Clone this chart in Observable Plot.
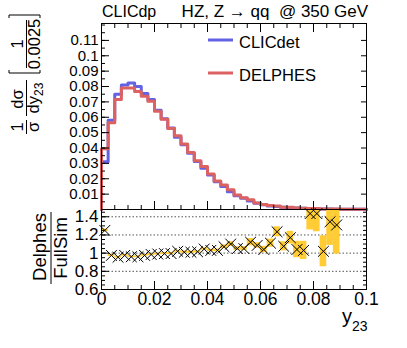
<!DOCTYPE html>
<html><head><meta charset="utf-8">
<script src="https://cdn.jsdelivr.net/npm/d3@7"></script>
<script src="https://cdn.jsdelivr.net/npm/@observablehq/plot@0.6"></script>
<style>
body{margin:0;background:#fff;}
#wrap{position:relative;width:407px;height:348px;overflow:hidden;background:#fff;font-family:"Liberation Sans",Arial,sans-serif;}
#wrap svg{overflow:visible;position:absolute;left:0;}
</style></head><body><div id="wrap"></div>
<script>
// ---- data ----
const binWidth = 0.0025;
const clicdet = [0.031,0.058,0.075,0.081,0.0823,0.080,0.0755,0.0715,0.0645,0.059,
  0.053,0.047,0.0422,0.0366,0.0312,0.0268,0.0224,0.0180,0.0150,0.0116,
  0.0090,0.0073,0.0056,0.0040,0.0031,0.0023,0.0019,0.0014,0.0012,0.0009,
  0.0008,0.0005,0.0004,0.0004,0.0003,0.0002,0.0002,0.0001,0.0001,0.0001];
const delphes = [0.0395,0.0565,0.0716,0.079,0.079,0.0768,0.0736,0.0704,0.0639,0.0587,
  0.0527,0.0479,0.0426,0.037,0.0317,0.028,0.0231,0.0185,0.016,0.0128,
  0.0095,0.0077,0.0063,0.0043,0.0032,0.0026,0.0023,0.0015,0.0014,0.0009,
  0.0008,0.0007,0.0006,0.0004,0.0004,0.0003,0.0001,0.0001,0.0001,0.0001];
const ratio = [1.25,0.975,0.955,0.975,0.96,0.96,0.975,0.985,0.99,0.995,
  0.995,1.02,1.01,1.01,1.015,1.045,1.03,1.03,1.07,1.10,
  1.05,1.05,1.12,1.085,1.04,1.11,1.235,1.075,1.17,1.04,
  1.03,1.435,1.435,1.02,1.345,1.31];
const ratioErr = [0.015,0.012,0.01,0.01,0.01,0.01,0.01,0.01,0.01,0.01,
  0.01,0.012,0.012,0.012,0.012,0.012,0.012,0.015,0.02,0.025,
  0.02,0.02,0.04,0.03,0.035,0.045,0.055,0.05,0.07,0.09,
  0.1,0.18,0.2,0.17,0.26,0.32];
const seriesNames = ["CLICdet","DELPHES"];
const seriesColors = ["#6262e4","#dc6262"];
const xTicks = [0,0.02,0.04,0.06,0.08,0.1];
const xTickLabels = ["0","0.02","0.04","0.06","0.08","0.1"];
const yTopTicks = [0.01,0.02,0.03,0.04,0.05,0.06,0.07,0.08,0.09,0.1,0.11];
const yTopLabels = ["0.01","0.02","0.03","0.04","0.05","0.06","0.07","0.08","0.09","0.1","0.11"];
const yRatioTicks = [0.6,0.8,1,1.2,1.4];
const yRatioLabels = ["0.6","0.8","1","1.2","1.4"];
const ratioGrid = [0.8,1,1.2,1.4];
const titleLeft = "CLICdp";
const titleRight = "HZ, Z \u2192 qq  @ 350 GeV";

// ---- derived tables ----
function steps(vals, name) {
  const pts = [{x: 0, y: 0, s: name}];
  vals.forEach((v, i) => pts.push({x: i * binWidth, y: v, s: name}));
  pts.push({x: vals.length * binWidth, y: vals[vals.length - 1], s: name});
  pts.push({x: vals.length * binWidth, y: 0, s: name});
  return pts;
}
const stepData = [...steps(clicdet, seriesNames[0]), ...steps(delphes, seriesNames[1])];
const ratioRows = ratio.map((r, i) => ({x1: i * binWidth, x2: (i + 1) * binWidth, xc: (i + 0.5) * binWidth,
  r, lo: r - ratioErr[i], hi: r + ratioErr[i]}));
const minorX = d3.range(0, 21).map(i => i * 0.005);
const minorYTop = d3.range(0, 25).map(i => i * 0.005);
const minorYRatio = d3.range(0, 18).map(i => 0.6 + i * 0.05);
const lab = (ticks, labels) => d => labels[ticks.findIndex(t => Math.abs(t - d) < 1e-9)];

const FONT = "'Liberation Sans', Arial, sans-serif";
const W = 407, ML = 101, MR = 41;
const wrap = document.getElementById("wrap");

// ---- top panel ----
const topPlot = Plot.plot({
  width: W, height: 210, marginTop: 23, marginBottom: 1, marginLeft: ML, marginRight: MR,
  style: {fontFamily: FONT, fontSize: "15px", color: "black", background: "transparent"},
  x: {domain: [0, 0.1], label: null},
  y: {domain: [0, 0.121], label: null},
  color: {domain: seriesNames, range: seriesColors},
  marks: [
    Plot.line(stepData, {x: "x", y: "y", z: "s", stroke: "s", curve: "step-after", strokeWidth: 3}),
    Plot.frame({stroke: "black"}),
    Plot.axisY(yTopTicks, {anchor: "left", tickSize: 0, tickPadding: 3, tickFormat: lab(yTopTicks, yTopLabels), fontSize: 15, label: null}),
    Plot.axisY(yTopTicks, {anchor: "left", tickSize: -8, text: null, label: null}),
    Plot.axisY(minorYTop, {anchor: "left", tickSize: -4, text: null, label: null}),
    Plot.axisY(yTopTicks, {anchor: "right", tickSize: -6, text: null, label: null}),
    Plot.axisX(xTicks, {anchor: "bottom", tickSize: -8, text: null, label: null}),
    Plot.axisX(minorX, {anchor: "bottom", tickSize: -4, text: null, label: null}),
    Plot.axisX(xTicks, {anchor: "top", tickSize: -8, text: null, label: null}),
    Plot.axisX(minorX, {anchor: "top", tickSize: -4, text: null, label: null})
  ]
});
topPlot.style.top = "0px";
wrap.appendChild(topPlot);

// ---- ratio panel ----
const bottomPlot = Plot.plot({
  width: W, height: 139, marginTop: 0, marginBottom: 59, marginLeft: ML, marginRight: MR,
  style: {fontFamily: FONT, fontSize: "17px", color: "black", background: "transparent"},
  x: {domain: [0, 0.1], label: null},
  y: {domain: [0.6, 1.48], label: null},
  marks: [
    Plot.ruleY(ratioGrid, {stroke: "#555", strokeDasharray: "1.5,2"}),
    Plot.rect(ratioRows, {x1: "x1", x2: "x2", y1: "lo", y2: "hi", fill: "#ffcc33", clip: true}),
    Plot.dot(ratioRows, {x: "xc", y: "r", symbol: "times", r: 5, stroke: "black", strokeWidth: 1}),
    Plot.frame({stroke: "black"}),
    Plot.axisY(yRatioTicks, {anchor: "left", tickSize: 0, tickPadding: 3, tickFormat: lab(yRatioTicks, yRatioLabels), fontSize: 17, label: null}),
    Plot.axisY(yRatioTicks, {anchor: "left", tickSize: -8, text: null, label: null}),
    Plot.axisY(minorYRatio, {anchor: "left", tickSize: -4, text: null, label: null}),
    Plot.axisY(minorYRatio, {anchor: "right", tickSize: -4, text: null, label: null}),
    Plot.axisX(xTicks, {anchor: "bottom", tickSize: 0, tickPadding: 3, tickFormat: lab(xTicks, xTickLabels), fontSize: 17.5, label: null}),
    Plot.axisX(xTicks, {anchor: "bottom", tickSize: -8, text: null, label: null}),
    Plot.axisX(minorX, {anchor: "bottom", tickSize: -4, text: null, label: null})
  ]
});
bottomPlot.style.top = "209px";
wrap.appendChild(bottomPlot);

// ---- titles, legend, axis titles ----
const svg = d3.select(wrap).append("svg").attr("width", W).attr("height", 348)
  .style("top", "0px").style("font-family", FONT).attr("fill", "black");
svg.append("text").attr("x", 102).attr("y", 17).attr("font-size", 16).text(titleLeft);
svg.append("text").attr("x", 368).attr("y", 17).attr("font-size", 17).attr("text-anchor", "end")
  .style("white-space", "pre").text(titleRight);

// legend
const leg = [{y: 40}, {y: 73}];
seriesNames.forEach((n, i) => {
  svg.append("line").attr("x1", 208).attr("x2", 233).attr("y1", leg[i].y).attr("y2", leg[i].y)
    .attr("stroke", seriesColors[i]).attr("stroke-width", 3);
  svg.append("text").attr("x", 239).attr("y", leg[i].y + 7.5).attr("font-size", 16.5).text(n);
});

// top y-axis title (rotated)
const TF = 16.5;
const gy = svg.append("g").attr("transform", "rotate(-90)");
function rtext(sx, sy, str, size) {
  return gy.append("text").attr("x", -sy).attr("y", sx).attr("text-anchor", "middle")
    .attr("font-size", size || TF).text(str);
}
function rline(sx, sy1, sy2) {
  gy.append("line").attr("x1", -sy1).attr("x2", -sy2).attr("y1", sx).attr("y2", sx)
    .attr("stroke", "black").attr("stroke-width", 1);
}
rtext(23, 127, "1"); rline(26.5, 120, 134); rtext(39, 127, "\u03c3");
rtext(23, 99, "d\u03c3"); rline(26.5, 80, 116);
const dyT = gy.append("text").attr("x", -98).attr("y", 39).attr("text-anchor", "middle").attr("font-size", TF);
dyT.append("tspan").text("dy");
dyT.append("tspan").attr("dy", 4).attr("font-size", 12).text("23");
rtext(23, 44, "1"); rline(26.5, 20, 68); rtext(40, 44, "0.0025");
// brackets
svg.append("path").attr("d", "M9,70V73H40V70").attr("fill", "none").attr("stroke", "black");
svg.append("path").attr("d", "M9,18V15H40V18").attr("fill", "none").attr("stroke", "black");

// ratio y title
const gr = svg.append("g").attr("transform", "rotate(-90)");
gr.append("text").attr("x", -247).attr("y", 46).attr("text-anchor", "middle").attr("font-size", 18.5).text("Delphes");
gr.append("line").attr("x1", -284).attr("x2", -212).attr("y1", 51).attr("y2", 51).attr("stroke", "black");
gr.append("text").attr("x", -248).attr("y", 67).attr("text-anchor", "middle").attr("font-size", 18.5).text("FullSim");

// x title
const xt = svg.append("text").attr("x", 342).attr("y", 323).attr("font-size", 20);
xt.append("tspan").text("y");
xt.append("tspan").attr("dy", 8).attr("font-size", 14).text("23");
</script></body></html>
